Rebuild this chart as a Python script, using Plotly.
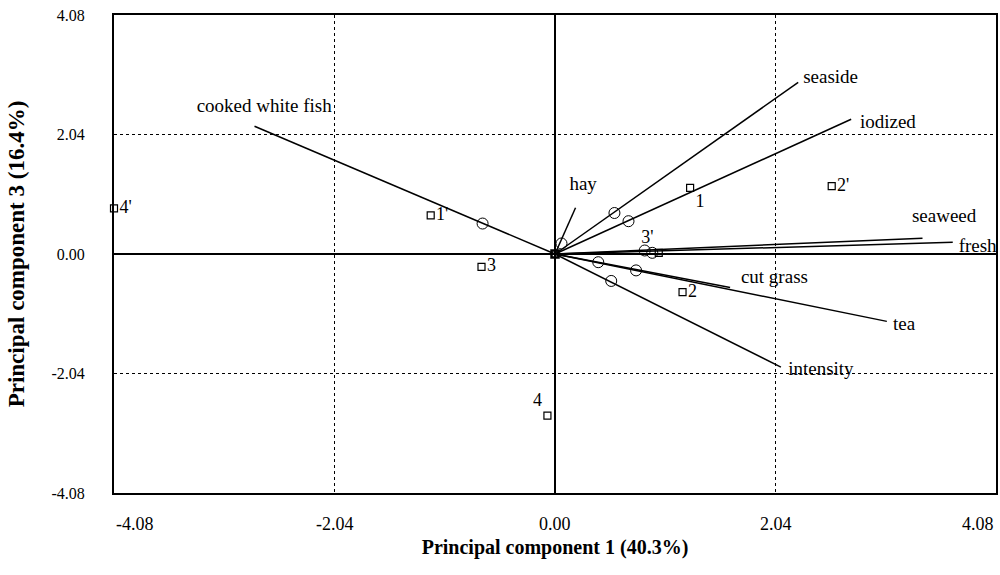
import plotly.graph_objects as go

# ---- data ----
attributes = ["cooked white fish", "seaside", "iodized", "hay", "seaweed",
              "fresh", "cut grass", "tea", "intensity"]
attr_end_x = [-2.78, 2.25, 2.74, 0.19, 3.40, 3.68, 1.62, 3.07, 2.09]
attr_end_y = [2.18, 2.93, 2.30, 0.79, 0.27, 0.20, -0.57, -1.15, -1.93]

# circles on the attribute vectors
circle_x = [-0.67, 0.55, 0.68, 0.06, 0.83, 0.90, 0.40, 0.75, 0.52]
circle_y = [0.52, 0.70, 0.56, 0.18, 0.06, 0.02, -0.14, -0.28, -0.46]

samples = ["4'", "1'", "3", "4", "1", "2'", "2", "3'"]
sample_x = [-4.08, -1.15, -0.68, -0.07, 1.25, 2.56, 1.18, 0.96]
sample_y = [0.78, 0.66, -0.22, -2.76, 1.13, 1.16, -0.65, 0.02]

tick_vals = [-4.08, -2.04, 0.00, 2.04, 4.08]
tick_text = ["-4.08", "-2.04", "0.00", "2.04", "4.08"]

x_title = "Principal component 1 (40.3%)"
y_title = "Principal component 3 (16.4%)"

# ---- label placement (layout only) ----
attr_label_pos = {
    "cooked white fish": (-2.69, 2.50),
    "seaside": (2.55, 3.00),
    "iodized": (3.08, 2.23),
    "hay": (0.26, 1.17),
    "seaweed": (3.60, 0.63),
    "fresh": (3.91, 0.11),
    "cut grass": (2.03, -0.42),
    "tea": (3.23, -1.21),
    "intensity": (2.46, -1.98),
}
sample_text_pos = ["middle right", "middle right", "middle right", "top left",
                   "bottom right", "middle right", "middle right", "top left"]

FONT = "Liberation Serif"

fig = go.Figure()

# vectors
vx, vy = [], []
for ex, ey in zip(attr_end_x, attr_end_y):
    vx += [0, ex, None]
    vy += [0, ey, None]
fig.add_trace(go.Scatter(x=vx, y=vy, mode="lines",
                         line=dict(color="black", width=1.5),
                         hoverinfo="skip", showlegend=False))

# circles
fig.add_trace(go.Scatter(x=circle_x, y=circle_y, mode="markers",
                         marker=dict(symbol="circle-open", size=11,
                                     color="black", line=dict(width=1)),
                         showlegend=False))

# origin marker
fig.add_trace(go.Scatter(x=[0], y=[0], mode="markers",
                         marker=dict(symbol="square-open", size=7,
                                     color="black", line=dict(width=2.5)),
                         showlegend=False))

# samples
fig.add_trace(go.Scatter(x=sample_x, y=sample_y, mode="markers+text",
                         text=samples, textposition=sample_text_pos,
                         textfont=dict(family=FONT, size=18, color="black"),
                         marker=dict(symbol="square-open", size=7,
                                     color="black", line=dict(width=1.2)),
                         cliponaxis=False, showlegend=False))

# attribute labels
fig.add_trace(go.Scatter(x=[attr_label_pos[a][0] for a in attributes],
                         y=[attr_label_pos[a][1] for a in attributes],
                         mode="text", text=attributes,
                         textposition="middle center",
                         textfont=dict(family=FONT, size=19, color="black"),
                         cliponaxis=False, showlegend=False))

# x tick labels as annotations (ends clamped inside like the original)
for v, t in zip(tick_vals, tick_text):
    anchor = "center"
    if v == tick_vals[0]:
        anchor = "left"
    elif v == tick_vals[-1]:
        anchor = "right"
    fig.add_annotation(x=v, y=-0.065, xref="x", yref="paper", text=t,
                       showarrow=False, xanchor=anchor, yanchor="middle",
                       font=dict(family=FONT, size=18, color="black"))

axis_common = dict(range=[-4.08, 4.08], tickvals=tick_vals,
                   showline=True, linecolor="black", linewidth=2, mirror=True,
                   showgrid=True, gridcolor="black", gridwidth=1, griddash="dot",
                   zeroline=True, zerolinecolor="black", zerolinewidth=2,
                   ticks="", fixedrange=True)

fig.update_xaxes(**axis_common, showticklabels=False,
                 title=dict(text="<b>" + x_title + "</b>", standoff=46,
                            font=dict(family=FONT, size=20, color="black")))
fig.update_yaxes(**axis_common, ticktext=tick_text, ticklabelstandoff=24,
                 tickfont=dict(family=FONT, size=16, color="black"),
                 title=dict(text="<b>" + y_title + "</b>", standoff=20,
                            font=dict(family=FONT, size=23, color="black")))

fig.update_layout(width=1000, height=575,
                  margin=dict(l=114, r=4, t=15, b=82, autoexpand=False),
                  plot_bgcolor="white", paper_bgcolor="white",
                  hovermode=False,
                  font=dict(family=FONT, color="black"))

fig.write_html("out.html",
               config={"displayModeBar": False, "staticPlot": True},
               post_script="document.body.style.margin='0';"
                           "document.body.style.padding='0';")
